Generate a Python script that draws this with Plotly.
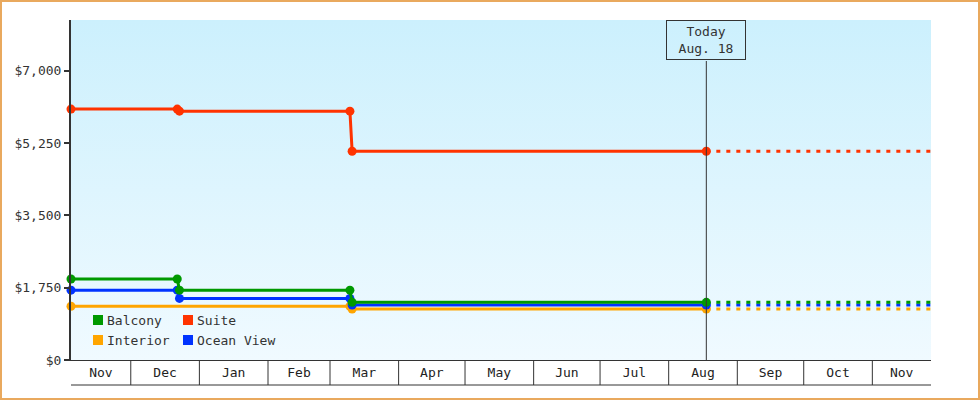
import base64
import pandas as pd
import plotly.graph_objects as go

# cabin price history (one row per price change)
dates_main = ["2016-11-04", "2016-12-22", "2016-12-23", "2017-03-10", "2017-03-11", "2017-08-18"]
prices_balcony = [1960, 1960, 1690, 1690, 1395, 1395]
prices_suite = [6070, 6070, 6020, 6020, 5050, 5050]
prices_ocean = [1690, 1690, 1490, 1490, 1330, 1330]
dates_interior = ["2016-11-04", "2017-03-10", "2017-03-11", "2017-08-18"]
prices_interior = [1300, 1300, 1235, 1235]

today = "2017-08-18"
today_label = "Today<br>Aug. 18"
x_start = "2016-11-04"
x_end = "2017-11-27 12:00"
y_ticks = [0, 1750, 3500, 5250, 7000]
y_max = 8225

FONT = "DejaVu Sans Mono"
DARK = "#333333"

# plot area in pixels
L, T, W, H = 71, 20, 860, 340


def px(x, y):
    # pixel position -> paper coords
    return (x - L) / W, (T + H - y) / H


series = [
    ("Interior", dates_interior, prices_interior, "#ffa500"),
    ("Ocean View", dates_main, prices_ocean, "#0033ff"),
    ("Balcony", dates_main, prices_balcony, "#009900"),
    ("Suite", dates_main, prices_suite, "#ff3300"),
]
colors = {s[0]: s[3] for s in series}
legend_rows = [["Balcony", "Suite"], ["Interior", "Ocean View"]]

fig = go.Figure()

for name, d, p, c in series:
    fig.add_trace(go.Scatter(x=d, y=p, mode="lines+markers", name=name,
                             line=dict(color=c, width=3),
                             marker=dict(color=c, size=9),
                             cliponaxis=False, showlegend=False))
    # projection after today
    fig.add_trace(go.Scatter(x=[d[-1], x_end], y=[p[-1], p[-1]], mode="lines",
                             line=dict(color=c, width=3, dash="4px,6px"),
                             showlegend=False, hoverinfo="skip"))

# month band under the plot
t0 = pd.Timestamp(x_start)
t1 = pd.Timestamp(x_end)
months = pd.date_range(t0.replace(day=1), t1, freq="MS")
tickvals, ticktext = [], []
for m in months:
    a = max(m, t0)
    b = min(m + pd.offsets.MonthBegin(1), t1)
    tickvals.append(a + (b - a) / 2)
    ticktext.append(m.strftime("%b"))

band = 25 / H
shapes = []
for m in months:
    if m > t0:
        shapes.append(dict(type="line", xref="x", yref="paper", x0=m, x1=m,
                           y0=0, y1=-band, line=dict(color=DARK, width=1)))
shapes.append(dict(type="line", xref="paper", yref="paper", x0=0, x1=1,
                   y0=-band, y1=-band, line=dict(color=DARK, width=1)))
# today marker line
box_h = 41 / H
shapes.append(dict(type="line", xref="x", yref="paper", x0=today, x1=today,
                   y0=0, y1=1 - box_h, line=dict(color=DARK, width=1)))
# orange frame around the whole picture
fx0, fy0 = px(1, 399)
fx1, fy1 = px(979, 1)
shapes.append(dict(type="rect", xref="paper", yref="paper",
                   x0=fx0, x1=fx1, y0=fy0, y1=fy1,
                   line=dict(color="#e9a95e", width=2), layer="below"))

annotations = [dict(x=today, xref="x", y=1, yref="paper", yanchor="top",
                    text=today_label, showarrow=False, align="center",
                    bordercolor=DARK, borderwidth=1, borderpad=0,
                    width=78, height=38, bgcolor="rgba(0,0,0,0)",
                    font=dict(family=FONT, size=13, color=DARK))]

# legend, two rows of two
for r, row in enumerate(legend_rows):
    yc = 320 + 20 * r
    for k, name in enumerate(row):
        xs = 93 + 90 * k
        sx0, sy0 = px(xs, yc + 5)
        sx1, sy1 = px(xs + 10, yc - 5)
        shapes.append(dict(type="rect", xref="paper", yref="paper",
                           x0=sx0, x1=sx1, y0=sy0, y1=sy1,
                           fillcolor=colors[name], line=dict(width=0)))
        tx, ty = px(xs + 12, yc)
        annotations.append(dict(x=tx, y=ty, xref="paper", yref="paper",
                                xanchor="left", yanchor="middle", text=name,
                                showarrow=False,
                                font=dict(family=FONT, size=13, color=DARK)))

# gradient plot background
svg = ('<svg xmlns="http://www.w3.org/2000/svg" width="100" height="100" preserveAspectRatio="none">'
       '<defs><linearGradient id="g" x1="0" y1="0" x2="0" y2="1">'
       '<stop offset="0" stop-color="#ccf0fd"/><stop offset="1" stop-color="#f0faff"/>'
       '</linearGradient></defs><rect width="100" height="100" fill="url(#g)"/></svg>')
bg_src = "data:image/svg+xml;base64," + base64.b64encode(svg.encode()).decode()

fig.update_layout(
    width=980, height=400,
    margin=dict(l=L, r=980 - L - W, t=T, b=400 - T - H),
    paper_bgcolor="white",
    plot_bgcolor="rgba(0,0,0,0)",
    font=dict(family=FONT, size=13, color=DARK),
    images=[dict(source=bg_src, xref="paper", yref="paper", x=0, y=1,
                 sizex=1, sizey=1, sizing="stretch", layer="below",
                 xanchor="left", yanchor="top")],
    shapes=shapes,
    annotations=annotations,
    xaxis=dict(range=[x_start, x_end], showgrid=False, zeroline=False,
               showline=True, linecolor=DARK, linewidth=1,
               tickvals=tickvals, ticktext=ticktext, ticks="",
               tickfont=dict(family=FONT, size=13, color="#222")),
    yaxis=dict(range=[0, y_max], showgrid=False, zeroline=False,
               showline=True, linecolor=DARK, linewidth=2,
               tickvals=y_ticks, ticktext=["$" + f"{v:,}" for v in y_ticks],
               ticks="outside", ticklen=5, tickwidth=2, tickcolor=DARK,
               tickfont=dict(family=FONT, size=13, color=DARK)),
    showlegend=False,
)

fig.write_html("out.html", config={"displayModeBar": False},
               post_script="document.body.style.margin='0px';")
